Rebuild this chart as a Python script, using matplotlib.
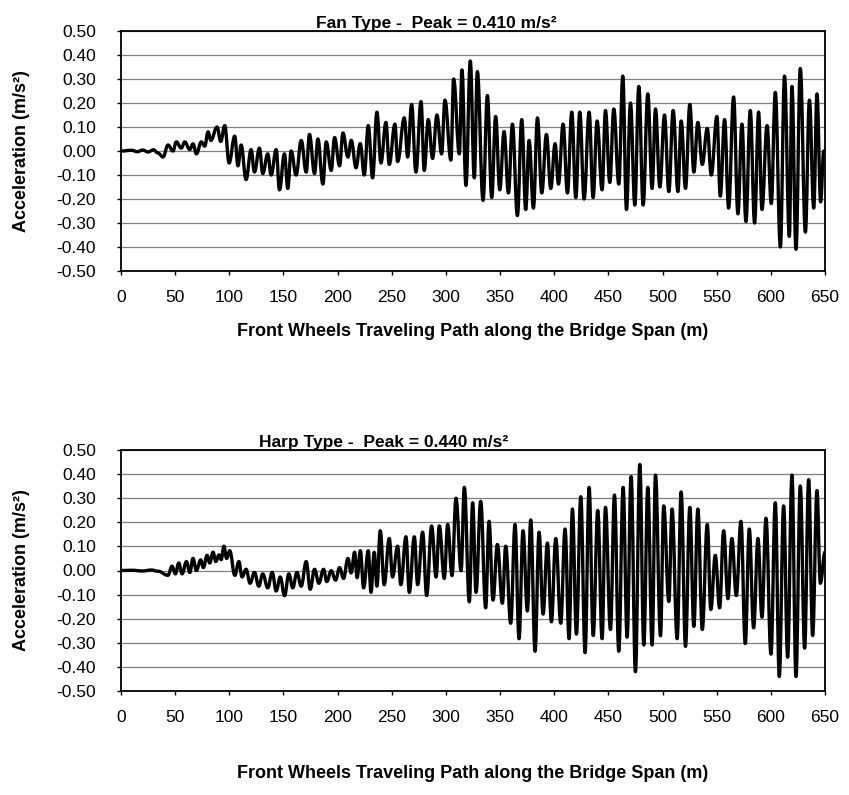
import matplotlib
matplotlib.use("Agg")
import matplotlib.pyplot as plt
from matplotlib.path import Path
from matplotlib.patches import PathPatch

# ---- data: acceleration extrema along the span ----
fan_x = [0, 10, 15, 20, 25, 30, 34,
         38.8, 43.4, 48.0, 51.0, 55.7, 58.8, 63.5, 66.5, 69.6, 74.2, 77.3, 80.4, 82.9, 88.7, 92.1, 95.8, 99.8, 105.0, 108.0,
         110.9, 115.5, 120.1, 123.2, 127.8, 130.9, 135.5, 138.6, 143.3, 146.3, 150.9, 154.0, 157.1, 161.7, 166.4, 171.0,
         174.0, 178.7, 181.8, 186.4, 189.5, 194.1, 197.2, 201.8, 204.9, 209.5, 212.6, 217.0,
         220.9, 224.6, 228.3, 232.3, 236.3, 240.0, 244.6, 247.7, 252.9, 255.4, 261.6, 264.7, 268.3, 272.3, 277.0, 280.0,
         283.7, 287.7, 291.7, 296.0, 299.1, 304.6, 307.1, 312.4, 314.8, 318.5, 322.5, 326.2,
         329.0, 334.3, 338.3, 342.3, 345.9, 349.7, 353.7, 357.7, 361.4, 366.0, 370.0, 373.7, 376.8, 380.8, 384.5, 388.5,
         392.8, 396.8, 400.8, 403.9, 408.2, 412.2, 416.2, 419.9, 423.6, 427.6, 432.2, 435.9,
         439.6, 444.2, 447.3, 451.3, 455.0, 459.6, 463.3, 466.7, 470.4, 474.4, 478.1, 482.1, 486.4, 490.4, 493.5, 497.5,
         501.8, 505.8, 509.8, 514.2, 517.2, 521.2, 525.2, 528.9, 532.6, 536.7, 541.3, 545.0,
         550.2, 553.3, 557.3, 561.0, 565.6, 569.6, 573.3, 577.0, 581.0, 585.0, 588.7, 591.8, 596.5, 600.4, 604.1, 608.8,
         612.6, 617.1, 619.5, 623.2, 627.2, 631.9, 635.6, 639.6, 642.6, 646.0, 648.8, 650.0]
fan_acc = [0.0, 0.003, -0.003, 0.004, -0.004, 0.005, -0.008,
           -0.025, 0.025, 0.0, 0.038, 0.012, 0.038, 0.006, 0.030, -0.012, 0.038, 0.020, 0.080, 0.044, 0.100, 0.040, 0.106, -0.050, 0.062, -0.062,
           0.025, -0.119, 0.006, -0.088, 0.012, -0.094, -0.012, -0.100, 0.006, -0.162, -0.012, -0.156, 0.000, -0.100, 0.044, -0.088,
           0.069, -0.094, 0.050, -0.138, 0.038, -0.081, 0.056, -0.062, 0.075, -0.025, 0.044, -0.070,
           0.031, -0.100, 0.106, -0.112, 0.162, -0.050, 0.119, -0.056, 0.112, -0.044, 0.138, -0.025, 0.194, -0.088, 0.206, -0.081,
           0.131, -0.031, 0.150, -0.012, 0.212, -0.038, 0.300, -0.012, 0.338, -0.144, 0.375, -0.112,
           0.331, -0.206, 0.231, -0.194, 0.144, -0.162, 0.081, -0.175, 0.112, -0.269, 0.131, -0.244, 0.044, -0.238, 0.138, -0.175,
           0.069, -0.156, 0.031, -0.138, 0.112, -0.175, 0.162, -0.194, 0.162, -0.200, 0.162, -0.194,
           0.125, -0.162, 0.169, -0.131, 0.175, -0.138, 0.312, -0.244, 0.200, -0.225, 0.269, -0.225, 0.238, -0.156, 0.175, -0.150,
           0.150, -0.169, 0.169, -0.169, 0.125, -0.156, 0.194, -0.088, 0.119, -0.056, 0.094, -0.100,
           0.144, -0.188, 0.131, -0.238, 0.225, -0.262, 0.112, -0.294, 0.169, -0.300, 0.162, -0.244, 0.106, -0.219, 0.244, -0.400,
           0.312, -0.356, 0.269, -0.410, 0.344, -0.338, 0.212, -0.238, 0.238, -0.212, 0.000, 0.000]

harp_x = [0, 10, 20, 28, 34.2,
          43.4, 47.1, 50.2, 53.3, 56.4, 60.4, 63.5, 66.5, 69.6, 73.6, 76.0, 79.5, 81.9, 85.0, 87.5, 90.5, 92.5, 95.0, 97.5, 100.4, 105.1,
          108.8, 111.8, 115.5, 119.2, 123.2, 127.2, 130.9, 135.5, 139.6, 143.3, 147.0, 151.0, 155.0, 158.6, 162.4, 166.4,
          171.0, 174.7, 178.7, 182.7, 187.0, 190.0, 194.1, 198.1, 201.8, 205.5, 209.5, 212.5, 215.7, 218.0,
          221.0, 224.0, 228.3, 230.8, 233.8, 236.3, 239.4, 243.0, 247.7, 250.7, 255.4, 258.4, 263.1, 266.2, 270.8, 273.9,
          278.5, 282.2, 286.8, 290.9, 293.9, 298.5, 301.6, 305.6, 309.3, 314.0, 317.0, 321.6, 324.7, 327.8,
          332.1, 336.7, 339.8, 343.5, 347.5, 352.1, 355.2, 359.8, 363.8, 367.5, 371.2, 375.2, 378.3, 382.3, 386.0, 389.7,
          393.7, 397.4, 401.4, 406.0, 410.0, 413.7, 416.8, 420.5, 424.5, 428.5, 432.2, 436.0,
          440.2, 444.2, 447.3, 451.9, 455.6, 459.6, 463.6, 467.3, 471.0, 475.0, 479.0, 482.7, 486.4, 490.4, 493.5, 498.1,
          501.1, 505.8, 508.8, 513.5, 517.2, 521.2, 525.2, 528.9, 532.6, 536.7, 541.3, 544.6,
          548.7, 552.7, 556.4, 560.4, 564.0, 568.1, 572.4, 576.4, 580.1, 584.1, 588.1, 591.8, 595.5, 600.1, 604.1, 607.8,
          611.8, 615.5, 619.5, 623.2, 627.2, 631.2, 634.9, 638.6, 642.6, 645.7, 650.0]
harp_acc = [0.0, 0.001, -0.002, 0.002, -0.003,
            -0.020, 0.018, -0.014, 0.031, -0.014, 0.037, -0.008, 0.050, 0.000, 0.044, 0.012, 0.063, 0.031, 0.076, 0.037, 0.065, 0.045, 0.101, 0.050, 0.082, -0.020,
            0.037, -0.027, 0.005, -0.053, -0.008, -0.065, -0.014, -0.072, -0.008, -0.085, -0.027, -0.104, -0.014, -0.072, -0.008, -0.065,
            0.037, -0.078, 0.005, -0.053, 0.005, -0.046, -0.001, -0.040, 0.012, -0.033, 0.050, -0.010, 0.076, -0.030,
            0.082, -0.072, 0.082, -0.091, 0.076, -0.065, 0.165, -0.059, 0.133, -0.027, 0.101, -0.059, 0.140, -0.091, 0.140, -0.059,
            0.159, -0.104, 0.185, -0.027, 0.185, -0.033, 0.191, -0.021, 0.300, -0.001, 0.345, -0.130, 0.281, -0.091,
            0.287, -0.155, 0.204, -0.123, 0.108, -0.136, 0.101, -0.219, 0.191, -0.283, 0.165, -0.168, 0.210, -0.335, 0.159, -0.181,
            0.114, -0.213, 0.133, -0.219, 0.172, -0.283, 0.255, -0.264, 0.306, -0.341, 0.345, -0.270,
            0.249, -0.283, 0.262, -0.245, 0.313, -0.335, 0.345, -0.277, 0.390, -0.420, 0.440, -0.309, 0.345, -0.309, 0.396, -0.271,
            0.268, -0.129, 0.255, -0.283, 0.326, -0.315, 0.262, -0.232, 0.255, -0.245, 0.191, -0.162,
            0.063, -0.155, 0.165, -0.117, 0.133, -0.104, 0.204, -0.303, 0.172, -0.238, 0.133, -0.194, 0.217, -0.347, 0.281, -0.440,
            0.268, -0.360, 0.396, -0.440, 0.351, -0.322, 0.377, -0.270, 0.332, -0.053, 0.076]

x_ticks = list(range(0, 651, 50))
y_ticks = [0.50, 0.40, 0.30, 0.20, 0.10, 0.00, -0.10, -0.20, -0.30, -0.40, -0.50]
titles = ["Fan Type -  Peak = 0.410 m/s\u00b2", "Harp Type -  Peak = 0.440 m/s\u00b2"]
title_pos = [0.448, 0.373]
x_label = "Front Wheels Traveling Path along the Bridge Span (m)"
y_label = "Acceleration (m/s\u00b2)"

plt.rcParams['font.family'] = ['Liberation Sans', 'DejaVu Sans']

W, H = 849, 795
fig = plt.figure(figsize=(W / 100, H / 100), dpi=100)


def frame(left, top, right, bottom):
    return [left / W, 1 - bottom / H, (right - left) / W, (bottom - top) / H]


def smooth_trace(xs, ys):
    """Cubic Bezier path through the extrema with flat tangents at each one."""
    verts = [(xs[0], ys[0])]
    codes = [Path.MOVETO]
    for i in range(1, len(xs)):
        dx = xs[i] - xs[i - 1]
        verts += [(xs[i - 1] + 0.4 * dx, ys[i - 1]),
                  (xs[i] - 0.4 * dx, ys[i]),
                  (xs[i], ys[i])]
        codes += [Path.CURVE4] * 3
    return Path(verts, codes)


axes_boxes = [frame(121, 31, 825, 271), frame(121, 450, 825, 691)]
xlabel_y = [332, 773]
series = [(fan_x, fan_acc), (harp_x, harp_acc)]

for box, (xs, ys), title, tpos, xly in zip(axes_boxes, series, titles, title_pos, xlabel_y):
    ax = fig.add_axes(box)
    ax.add_patch(PathPatch(smooth_trace(xs, ys), facecolor='none', edgecolor='black',
                           lw=2.4, joinstyle='round', capstyle='round', zorder=3))
    ax.set_xlim(0, 650)
    ax.set_ylim(-0.5, 0.5)
    ax.set_xticks(x_ticks)
    ax.set_yticks(y_ticks)
    ax.set_yticklabels([f"{v:.2f}" for v in y_ticks])
    ax.yaxis.grid(True, color='#7f7f7f', lw=0.9)
    ax.set_axisbelow(True)
    for s in ax.spines.values():
        s.set_color('black')
        s.set_linewidth(1.3)
    ax.tick_params(axis='both', labelsize=12.5, direction='out', length=3, width=1)
    ax.tick_params(axis='y', pad=15)
    ax.tick_params(axis='x', pad=11)
    ax.set_ylabel(y_label, fontsize=13, fontweight='bold')
    ax.yaxis.set_label_coords((30 - 121) / 704, 0.5)
    fig.text((121 + 825) / 2 / W, 1 - xly / H, x_label, ha='center', va='center',
             fontsize=13, fontweight='bold')
    ax.annotate(title, xy=(tpos, 1.0), xycoords='axes fraction', xytext=(0, 2),
                textcoords='offset points', ha='center', va='baseline',
                fontsize=12.5, fontweight='bold')

fig.savefig("out.png", dpi=100)
